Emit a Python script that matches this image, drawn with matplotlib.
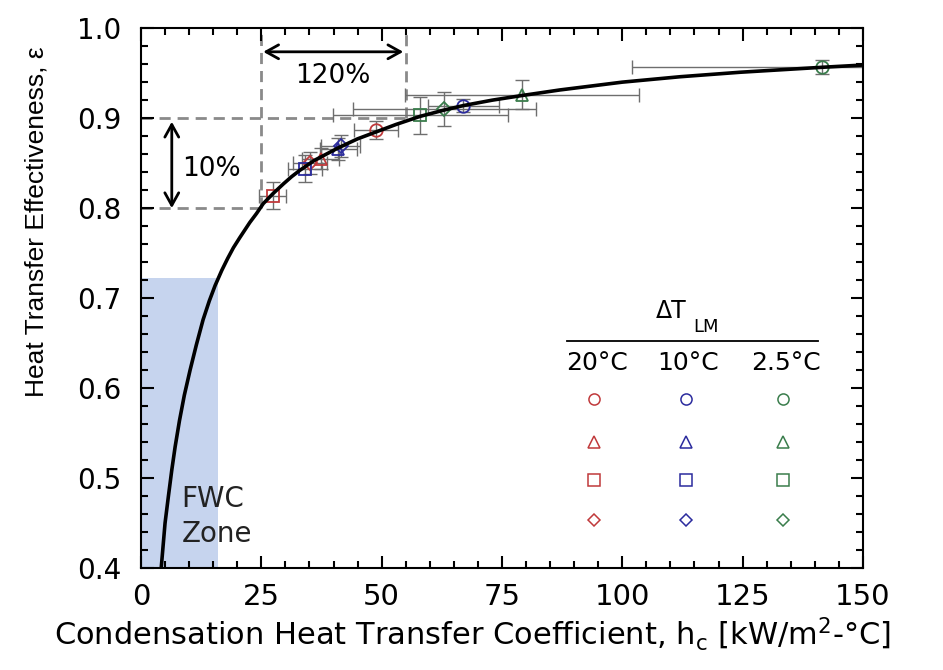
import matplotlib
matplotlib.use("Agg")
import matplotlib.pyplot as plt
from matplotlib.ticker import MultipleLocator

plt.rcParams['font.family'] = ['DejaVu Sans']
plt.rcParams['mathtext.fontset'] = 'dejavusans'

# Model curve
curve_h = [4.2, 5.0, 5.7, 6.4, 7.1, 8.0, 9.0, 10.2, 11.5, 12.9, 14.2, 15.4, 16.8,
           18.0, 19.2, 20.5, 22.6, 24.0, 25.4, 27.4, 29.6, 31.3, 33.0, 36.0, 41.0,
           45.0, 49.0, 53.0, 58.0, 63.0, 67.0, 73.0, 79.0, 87.0, 100.0, 112.0,
           124.5, 141.5, 150.0]
curve_e = [0.400, 0.450, 0.480, 0.509, 0.535, 0.564, 0.592, 0.620, 0.648, 0.676,
           0.697, 0.714, 0.731, 0.744, 0.756, 0.767, 0.784, 0.794, 0.805, 0.816, 0.827,
           0.835, 0.842, 0.853, 0.867, 0.877, 0.885, 0.893, 0.902, 0.909, 0.914,
           0.920, 0.925, 0.9313, 0.940, 0.946, 0.951, 0.9565, 0.959]

# Experimental points
red_h = [27.4, 35.1, 37.3, 48.8]
red_e = [0.814, 0.850, 0.855, 0.887]
red_xerr = [2.8, 3.5, 3.8, 4.5]
red_yerr = [0.015, 0.012, 0.012, 0.010]
red_mk = ['s', 'D', '^', 'o']

blue_h = [34.1, 41.0, 41.5, 67.0]
blue_e = [0.844, 0.866, 0.869, 0.914]
blue_xerr = [3.5, 3.8, 4.0, 7.3]
blue_yerr = [0.015, 0.012, 0.012, 0.007]
blue_mk = ['s', '^', 'D', 'o']

green_h = [58.0, 63.0, 79.1, 141.5]
green_e = [0.903, 0.910, 0.926, 0.957]
green_xerr = [18.2, 19.0, 24.3, 39.5]
green_yerr = [0.021, 0.019, 0.016, 0.008]
green_mk = ['s', 'D', '^', 'o']

x_ticks = [0, 25, 50, 75, 100, 125, 150]
y_ticks = [0.4, 0.5, 0.6, 0.7, 0.8, 0.9, 1.0]
y_ticklabels = ['0.4', '0.5', '0.6', '0.7', '0.8', '0.9', '1.0']

legend_cols = ['20°C', '10°C', '2.5°C']
legend_markers = ['o', '^', 's', 'D']

RED = '#c0393b'
BLUE = '#2b2b9e'
GREEN = '#3a7d4c'

fig = plt.figure(figsize=(9.43, 6.70), dpi=100)
ax = fig.add_axes([0.1495, 0.152, 0.7656, 0.806])

ax.set_xlim(0, 150)
ax.set_ylim(0.4, 1.0)

# FWC zone
ax.fill_between([0, 16], [0.4, 0.4], [0.722, 0.722], color='#c6d4ee', zorder=0, lw=0)
ax.text(8.45, 0.4678, 'FWC', fontsize=20, ha='left', va='baseline', color='#222222')
ax.text(8.45, 0.4292, 'Zone', fontsize=20, ha='left', va='baseline', color='#222222')

# dashed guide lines
dcol = '#8a8a8a'
dkw = dict(color=dcol, lw=2.0, ls=(0, (4, 2.5)), zorder=1)
ax.plot([0, 25], [0.8, 0.8], **dkw)
ax.plot([0, 55], [0.9, 0.9], **dkw)
ax.plot([25, 25], [0.8, 1.0], **dkw)
ax.plot([55, 55], [0.9, 1.0], **dkw)

# arrows
akw = dict(arrowstyle='<->,head_length=0.9,head_width=0.5', color='black', lw=2,
           shrinkA=0, shrinkB=0)
ax.annotate('', xy=(25.4, 0.9737), xytext=(54.5, 0.9737), arrowprops=akw)
ax.text(39.9, 0.9386, '120%', fontsize=19, ha='center', va='baseline')
ax.annotate('', xy=(6.4, 0.896), xytext=(6.4, 0.80), arrowprops=akw)
ax.text(14.65, 0.8356, '10%', fontsize=19, ha='center', va='baseline')

# data with error bars
for hs, es, xe, ye, mks, col in [(red_h, red_e, red_xerr, red_yerr, red_mk, RED),
                                 (blue_h, blue_e, blue_xerr, blue_yerr, blue_mk, BLUE),
                                 (green_h, green_e, green_xerr, green_yerr, green_mk, GREEN)]:
    for h, e, xerr, yerr, mk in zip(hs, es, xe, ye, mks):
        ax.errorbar(h, e, xerr=xerr, yerr=yerr, fmt='none', ecolor='#6e6e6e',
                    elinewidth=1.0, capsize=5, capthick=1.0, zorder=2)
        ax.plot(h, e, marker=mk, mfc='none', mec=col, mew=1.3,
                ms=9 if mk != 'D' else 7, ls='none', zorder=3)

# curve
ax.plot(curve_h, curve_e, color='black', lw=2.6, zorder=4)

# legend table
ax.text(110.2, 0.686, 'ΔT', fontsize=17, ha='center', va='center')
ax.text(117.3, 0.668, 'LM', fontsize=13, ha='center', va='center')
ax.plot([88.5, 140.7], [0.6526, 0.6526], color='black', lw=1.3)
col_x = [94.2, 113.2, 133.3]
row_y = [0.5874, 0.540, 0.498, 0.453]
for cx, lab, col in zip(col_x, legend_cols, [RED, BLUE, GREEN]):
    ax.text(cx + (0.5 if lab != '2.5°C' else 0.8), 0.628, lab, fontsize=18,
            ha='center', va='center')
    for ry, mk in zip(row_y, legend_markers):
        ax.plot(cx, ry, marker=mk, mfc='none', mec=col, mew=1.1,
                ms=8 if mk != 'D' else 6, ls='none')

# ticks
ax.set_xticks(x_ticks)
ax.set_xticklabels([str(t) for t in x_ticks], fontsize=21)
ax.set_yticks(y_ticks)
ax.set_yticklabels(y_ticklabels, fontsize=20)
ax.xaxis.set_minor_locator(MultipleLocator(5))
ax.yaxis.set_minor_locator(MultipleLocator(0.02))
ax.tick_params(which='both', direction='in', top=True, right=True, width=1.5)
ax.tick_params(which='major', length=9)
ax.tick_params(which='minor', length=5)
ax.tick_params(axis='x', which='major', pad=11)
ax.tick_params(axis='y', which='major', pad=14)
for s in ax.spines.values():
    s.set_linewidth(1.5)

ax.set_xlabel(r'Condensation Heat Transfer Coefficient, h$_{\mathregular{c}}$ [kW/m$^{\mathregular{2}}$-°C]',
              fontsize=22)
ax.xaxis.set_label_coords(0.459, -0.088)
ax.set_ylabel('Heat Transfer Effectiveness, ε', fontsize=19,
              family=['Liberation Sans', 'DejaVu Sans'])
ax.yaxis.set_label_coords(-0.128, 0.641)

fig.savefig('out.png', dpi=100)
